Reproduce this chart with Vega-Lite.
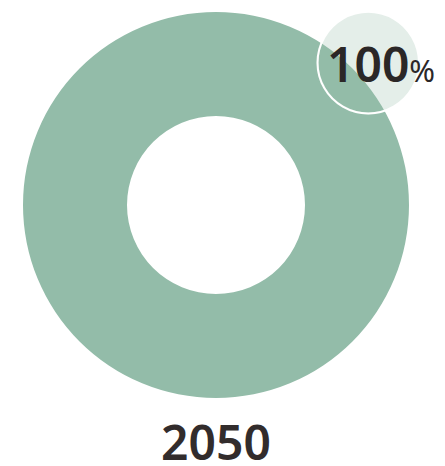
{
  "$schema": "https://vega.github.io/schema/vega-lite/v6.json",
  "width": 432,
  "height": 410,
  "autosize": {"type": "none"},
  "padding": {"left": 0, "top": 0, "right": 13, "bottom": 56},
  "background": "white",
  "view": {"stroke": null},
  "data": {"values": [{"year": "2050", "share": 100, "label": "100", "unit": "%"}]},
  "title": {"text": "2050", "orient": "bottom", "anchor": "middle", "font": "Noto Sans", "fontSize": 48, "fontWeight": 600, "color": "#322c2c", "offset": 12},
  "layer": [
    {
      "mark": {"type": "arc", "innerRadius": 89, "outerRadius": 193, "color": "#93bca9"},
      "encoding": {"theta": {"field": "share", "type": "quantitative", "scale": {"domain": [0, 100]}}}
    },
    {
      "mark": {"type": "text", "text": "●", "font": "DejaVu Sans", "fontSize": 133, "radius": 209, "dy": -5, "baseline": "middle", "align": "center", "fill": "#93bca9", "fillOpacity": 0.25, "stroke": "white", "strokeWidth": 2},
      "encoding": {"theta": {"datum": 13, "type": "quantitative"}}
    },
    {
      "mark": {"type": "text", "font": "Noto Sans", "fontSize": 48, "fontWeight": 600, "radius": 229, "align": "right", "baseline": "alphabetic", "color": "#2b2727"},
      "encoding": {"theta": {"datum": 16, "type": "quantitative"}, "text": {"field": "label"}}
    },
    {
      "mark": {"type": "text", "font": "Noto Sans", "fontSize": 31, "fontWeight": "normal", "radius": 229, "align": "left", "baseline": "alphabetic", "color": "#2b2727"},
      "encoding": {"theta": {"datum": 16, "type": "quantitative"}, "text": {"field": "unit"}}
    }
  ]
}
